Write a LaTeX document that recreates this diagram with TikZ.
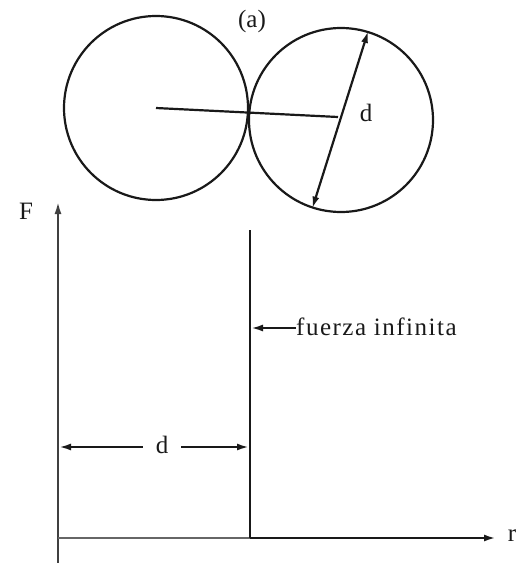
\documentclass[tikz,border=0pt]{standalone}
\usepackage{fontspec}
\setmainfont{Liberation Serif}
\usetikzlibrary{arrows.meta}
\begin{document}
\begin{tikzpicture}[x=1pt,y=-1pt,
  ln/.style={line width=2.2pt,black!90},
  tip/.tip={Latex[length=12pt,width=7pt]},
  arr/.style={-tip},
  lbl/.style={font=\fontsize{25}{27}\selectfont,inner sep=2pt,text=black!90}]
\useasboundingbox (0,0) rectangle (526,563);
% circles
\node[ln,draw,circle,minimum size=184pt,inner sep=0pt] (c1) at (156,108) {};
\node[ln,draw,circle,minimum size=184pt,inner sep=0pt] (c2) at (341,120) {};
\coordinate (p) at (338,117);
\draw[ln] (c1.center) -- (p);
\draw[ln,tip-tip] (c2.252) -- (c2.73);
\node[lbl] (dtop) at (366,113) {d};
\node[lbl] (a) at (252,21) {(a)};
% axes
\coordinate (o) at (58,538);
\coordinate (ybot) at (58,563);
\coordinate (ytop) at (58,202);
\coordinate (wb) at (250,538);
\coordinate (wt) at (250,230);
\coordinate (xend) at (496,538);
\draw[ln,line width=2pt,black!75,arr] (ybot) -- (ytop);
\draw[ln,line width=1.8pt,black!60] (o) -- (wb);
\draw[ln,line width=2.6pt,arr] (wb) -- (xend);
\draw[ln] (wb) -- (wt);
\node[lbl] (F) at (26,211) {F};
\node[lbl] (r) at (512,536) {r};
% fuerza infinita
\node[lbl,anchor=west,inner sep=0pt] (fi) at (296,327) {\addfontfeatures{LetterSpace=6}fuerza infinita};
\coordinate (fiw) at (251,328);
\draw[ln,arr] (fi.west |- fiw) -- (fiw);
% dimension d
\node[lbl,inner sep=0pt,minimum width=38pt] (dlab) at (162,445) {d};
\coordinate (dl) at (59,447);
\coordinate (dr) at (249,447);
\draw[ln,arr] (dlab.west |- dl) -- (dl);
\draw[ln,arr] (dlab.east |- dr) -- (dr);
\end{tikzpicture}
\end{document}
